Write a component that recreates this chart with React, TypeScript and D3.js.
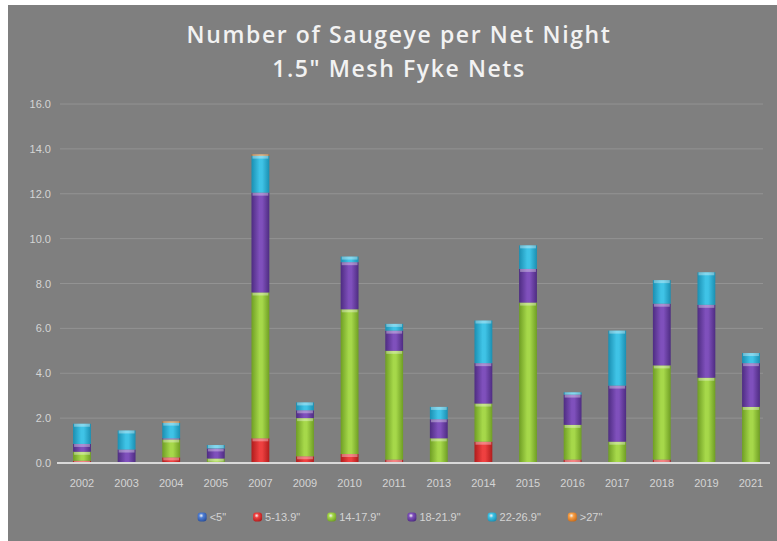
import React from "react";
import * as d3 from "d3";

const years = ["2002","2003","2004","2005","2007","2009","2010","2011","2013","2014","2015","2016","2017","2018","2019","2021"];
const lt5 = [0,0,0,0,0,0,0,0,0,0,0,0,0,0,0,0];
const s5to13 = [0.1,0,0.25,0,1.1,0.3,0.4,0.15,0,0.95,0,0.15,0,0.15,0,0];
const s14to17 = [0.4,0,0.8,0.2,6.5,1.7,6.45,4.85,1.1,1.7,7.15,1.55,0.95,4.2,3.8,2.5];
const s18to21 = [0.35,0.6,0.05,0.45,4.45,0.35,2.1,0.9,0.85,1.8,1.5,1.35,2.5,2.75,3.25,1.95];
const s22to26 = [0.9,0.85,0.7,0.15,1.65,0.35,0.25,0.3,0.55,1.9,1.05,0.1,2.45,1.05,1.45,0.45];
const gt27 = [0,0,0.05,0,0.05,0,0,0,0,0,0,0,0,0,0,0];
const seriesNames = ['<5"', '5-13.9"', '14-17.9"', '18-21.9"', '22-26.9"', '>27"'];
const seriesValues = [lt5, s5to13, s14to17, s18to21, s22to26, gt27];
const yTicks = [0, 2, 4, 6, 8, 10, 12, 14, 16];
const titleLines = ["Number of Saugeye per Net Night", '1.5" Mesh Fyke Nets'];

const colors = [
  { dark: "#2a4f9a", mid: "#4f7fd6" },
  { dark: "#b01c1c", mid: "#ee4040" },
  { dark: "#6f9e24", mid: "#a6d84a" },
  { dark: "#4e2c82", mid: "#7f50bc" },
  { dark: "#1a8fb2", mid: "#3fc3e6" },
  { dark: "#c86a18", mid: "#f6a048" },
];

const W = 777, H = 541;

function measure(text: string, font: string) {
  if (typeof document === "undefined") return text.length * 6;
  const c = document.createElement("canvas");
  const ctx = c.getContext("2d");
  if (!ctx) return text.length * 6;
  ctx.font = font;
  return ctx.measureText(text).width;
}

export default function App() {
  const x = d3.scaleBand<string>().domain(years).range([59.7, 773.3]).paddingInner(0.6).paddingOuter(0.3);
  const y = d3.scaleLinear().domain([0, 16]).range([463, 104]);

  const table = years.map((yr, i) => {
    const row: any = { year: yr };
    seriesNames.forEach((s, k) => (row[s] = seriesValues[k][i]));
    return row;
  });
  const stacked = d3.stack<any>().keys(seriesNames)(table);

  const legendFont = "11px 'Liberation Sans', Arial, sans-serif";
  const legendItems = seriesNames.map((n) => ({ n, w: 12 + measure(n, legendFont) }));
  const gap = 27;
  const totalW = d3.sum(legendItems, (d) => d.w) + gap * (legendItems.length - 1);
  let cur = 400 - totalW / 2;
  const legendPos = legendItems.map((d) => {
    const p = cur;
    cur += d.w + gap;
    return p;
  });

  return (
    <svg width={W} height={H} style={{ display: "block", position: "absolute", left: 0, top: 0 }}>
      <defs>
        {colors.map((c, k) => (
          <linearGradient key={k} id={`g${k}`} x1="0" x2="1" y1="0" y2="0">
            <stop offset="0" stopColor={c.dark} />
            <stop offset="0.45" stopColor={c.mid} />
            <stop offset="0.6" stopColor={c.mid} />
            <stop offset="1" stopColor={c.dark} />
          </linearGradient>
        ))}
        {colors.map((c, k) => (
          <radialGradient key={k} id={`m${k}`} cx="0.4" cy="0.35" r="0.7">
            <stop offset="0" stopColor="#ffffff" stopOpacity="0.9" />
            <stop offset="0.35" stopColor={c.mid} />
            <stop offset="1" stopColor={c.dark} />
          </radialGradient>
        ))}
      </defs>
      <rect x={8} y={5} width={W - 8} height={H - 5} fill="#7f7f7f" />
      {titleLines.map((t, i) => (
        <text key={i} x={399} y={43 + i * 34} textAnchor="middle" fill="#f2f2f2"
          style={{ font: "600 23px 'Open Sans', sans-serif", letterSpacing: "1.6px" }}>{t}</text>
      ))}
      {yTicks.map((t) => (
        <g key={t}>
          {t > 0 && <line x1={60} x2={763} y1={y(t)} y2={y(t)} stroke="#939393" strokeWidth={1} />}
          <text x={51} y={y(t) + 4} textAnchor="end" fill="#d4d4d4"
            style={{ font: "11px 'Liberation Sans', Arial, sans-serif" }}>{t.toFixed(1)}</text>
        </g>
      ))}
      {stacked.map((layer, k) => (
        <g key={k}>
          {layer.map((d, i) => {
            const h = y(d[0]) - y(d[1]);
            if (h <= 0.01) return null;
            const bx = x(years[i])!;
            const bw = x.bandwidth();
            return (
              <g key={i}>
                <rect x={bx} y={y(d[1])} width={bw} height={h} fill={`url(#g${k})`} />
                <rect x={bx + 1} y={y(d[1])} width={bw - 2} height={Math.min(3, h)} fill="#ffffff" opacity={0.35} />
              </g>
            );
          })}
        </g>
      ))}
      <line x1={57} x2={770} y1={y(0)} y2={y(0)} stroke="#d9d9d9" strokeWidth={2} />
      {years.map((yr) => (
        <text key={yr} x={x(yr)! + x.bandwidth() / 2} y={487} textAnchor="middle" fill="#d4d4d4"
          style={{ font: "11px 'Liberation Sans', Arial, sans-serif" }}>{yr}</text>
      ))}
      {legendItems.map((d, k) => (
        <g key={d.n} transform={`translate(${legendPos[k]},517)`}>
          <rect x={0} y={-4.5} width={9} height={9} rx={3} fill={`url(#m${k})`} />
          <text x={12} y={4} fill="#d4d4d4" style={{ font: legendFont }}>{d.n}</text>
        </g>
      ))}
    </svg>
  );
}
